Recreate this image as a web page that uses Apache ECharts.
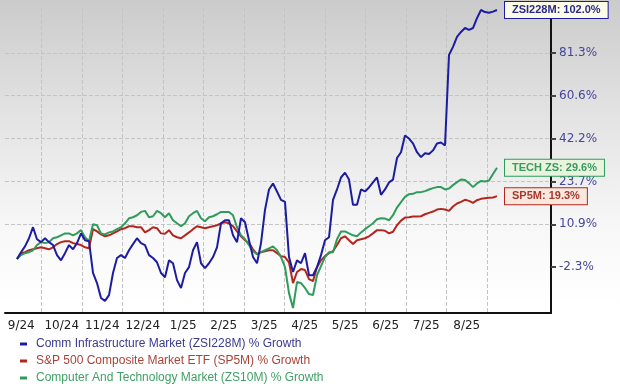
<!DOCTYPE html>
<html><head><meta charset="utf-8">
<script src="https://cdn.jsdelivr.net/npm/echarts@6/dist/echarts.min.js"></script>
<style>html,body{margin:0;padding:0;background:#fff;}#c{width:620px;height:386px;}</style>
</head><body><div id="c"></div>
<script>
const monthLabels = ['9/24','10/24','11/24','12/24','1/25','2/25','3/25','4/25','5/25','6/25','7/25','8/25'];
const yTickValues = [-2.3, 10.9, 23.7, 42.2, 60.6, 81.3];
const yTickLabels = ['-2.3%','10.9%','23.7%','42.2%','60.6%','81.3%'];
const seriesNames = [
  'Comm Infrastructure Market (ZSI228M) % Growth',
  'S&P 500 Composite Market ETF (SP5M) % Growth',
  'Computer And Technology Market (ZS10M) % Growth'
];
const seriesCodes = ['ZSI228M', 'SP5M', 'TECH ZS'];

const commInfra = [
  0.2,2.3,4.1,6.6,10.0,6.3,5.4,6.6,5.4,4.5,
  1.4,-0.2,2.0,4.5,3.2,5.1,8.1,6.0,5.7,-4.1,
  -7.2,-11.8,-12.7,-10.9,-4.1,0.5,1.4,0.5,2.9,4.8,
  6.6,5.1,4.5,1.4,0.5,-0.8,-4.1,-5.4,-0.2,-1.1,
  -6.3,-8.7,-4.1,-2.3,2.9,5.4,-1.1,-2.6,-1.1,0.8,
  3.8,11.2,12.1,12.1,7.5,5.4,12.7,11.5,6.0,0.8,
  -1.1,5.1,15.2,21.3,23.1,20.7,18.2,17.6,0.8,-3.8,
  -0.2,-1.1,2.0,-4.8,-4.8,-2.3,1.4,6.0,6.9,18.2,
  21.3,25.4,27.5,24.5,16.7,16.7,21.3,20.7,21.9,23.4,
  25.4,19.7,21.3,23.4,24.5,33.8,36.3,43.5,42.2,40.1,
  36.3,34.2,35.9,35.5,37.1,40.1,40.5,39.2,80.3,84.2,
  89.0,91.4,93.3,92.4,93.3,98.1,102.0,101.0,100.7,101.2,
  102.0
];
const sp500 = [
  0.2,2.0,2.3,2.9,3.2,3.5,3.8,3.5,3.2,3.8,
  4.8,5.4,5.7,5.7,5.1,4.8,4.5,3.8,3.5,9.4,
  8.7,7.8,7.2,7.5,8.1,8.7,9.4,9.7,10.3,10.3,
  10.0,10.0,8.4,9.1,10.0,9.7,8.1,8.0,9.1,7.5,
  6.9,6.6,7.5,8.4,9.4,10.3,10.0,9.7,10.0,10.3,
  10.6,11.2,11.5,11.2,10.3,8.7,7.2,6.0,5.1,3.2,
  1.7,2.3,2.6,2.9,2.9,2.0,1.1,0.8,-0.8,-7.2,
  -3.8,-2.9,-3.2,-6.0,-6.6,-2.3,-0.2,1.1,2.0,2.6,
  4.5,6.6,7.2,6.0,4.8,6.0,6.3,6.6,7.2,8.1,
  9.1,9.1,8.9,8.1,8.6,10.6,12.0,12.9,13.0,13.2,
  13.2,13.3,13.9,14.3,14.7,15.3,15.5,15.3,14.9,16.2,
  17.1,17.6,18.2,17.9,17.3,18.1,18.5,18.7,18.8,18.9,
  19.3
];
const techMarket = [
  0.2,1.4,2.0,2.3,2.9,4.5,5.4,5.1,5.4,6.6,
  6.9,7.5,8.1,8.1,7.5,8.1,9.1,6.9,5.7,10.9,
  10.6,8.1,7.8,8.4,8.7,9.4,10.0,11.2,12.7,13.0,
  13.6,14.6,14.9,13.0,13.3,14.9,14.2,13.0,14.2,12.1,
  11.2,10.3,11.2,13.3,14.2,14.9,12.7,11.8,13.0,13.3,
  13.9,14.6,14.6,14.6,13.6,10.0,7.5,6.3,4.5,2.6,
  1.7,2.3,2.9,3.5,4.1,2.9,0.8,-2.3,-10.3,-14.9,
  -6.9,-7.2,-8.7,-10.6,-10.9,-4.8,-2.0,0.8,2.3,2.3,
  6.3,8.7,8.7,8.1,7.5,7.2,8.4,9.4,10.3,11.2,
  12.4,12.7,12.6,12.1,13.6,15.9,17.5,19.1,19.9,20.0,
  20.5,20.5,20.8,21.3,21.7,22.0,22.0,21.3,21.6,22.6,
  23.5,24.5,24.3,23.2,22.0,23.1,23.9,23.7,24.1,26.9,
  29.6
];

// trading-date categories for the sample points (about every 3 days)
const startDay = Date.UTC(2024, 8, 10);
const dates = commInfra.map((_, i) => {
  const d = new Date(startDay + i * 3 * 86400000);
  return (d.getUTCMonth() + 1) + '/' + d.getUTCDate() + '/' + d.getUTCFullYear();
});

// the chart's vertical scale is piecewise between the labelled ticks
function toUnit(p) {
  const t = yTickValues, n = t.length;
  let i = 0;
  if (p >= t[n - 1]) i = n - 2;
  else if (p > t[0]) { while (p > t[i + 1]) i++; }
  return i + (p - t[i]) / (t[i + 1] - t[i]);
}

const colors = ['#1c1ca0', '#b3261e', '#2f9c5c'];
const textColors = ['#2a2a8a', '#a8382e', '#3a9a60'];
const legendColors = ['#3a3a90', '#a8433a', '#41a064'];
const boxBg = ['#fbfbe8', '#fae8de', '#e9f4df'];
const allData = [commInfra, sp500, techMarket];
const order = [1, 2, 0];
const zOf = [5, 3, 4];

const series = order.map(k => ({
  name: seriesNames[k],
  type: 'line',
  xAxisIndex: 0, yAxisIndex: 0,
  data: allData[k].map(toUnit),
  showSymbol: false,
  symbol: 'none',
  lineStyle: { color: colors[k], width: 2 },
  itemStyle: { color: colors[k] },
  z: zOf[k],
  endLabel: {
    show: true,
    formatter: seriesCodes[k] + ': ' + allData[k][allData[k].length - 1].toFixed(1) + '%',
    distance: 8,
    color: textColors[k],
    fontFamily: 'Liberation Sans',
    fontWeight: 'bold',
    fontSize: 11,
    backgroundColor: boxBg[k],
    borderColor: colors[k],
    borderWidth: 1,
    padding: [3, 7, 2, 7]
  }
}));

const legendTops = [333, 350, 367];
const legends = seriesNames.map((n, k) => ({
  orient: 'horizontal', left: 15, top: legendTops[k],
  icon: 'rect', itemWidth: 7, itemHeight: 3,
  textStyle: { fontFamily: 'Liberation Sans', fontSize: 12, color: legendColors[k], padding: [0, 0, 0, 4] },
  data: [{ name: n, itemStyle: { color: colors[k] } }]
}));

const gridColor = '#c4c4c4';
const tr = 'rgba(0,0,0,0)';
const chart = echarts.init(document.getElementById('c'), null, { renderer: 'canvas' });
chart.setOption({
  animation: false,
  backgroundColor: {
    type: 'linear', x: 0, y: 0, x2: 0, y2: 1,
    colorStops: [
      { offset: 0, color: '#cbcbcb' },
      { offset: 0.3, color: '#e3e3e3' },
      { offset: 0.6, color: '#f8f8f8' },
      { offset: 0.8, color: '#ffffff' }
    ]
  },
  grid: [
    { left: 17, right: 123, top: 10, bottom: 76 },
    { left: 5, right: 69, top: 10, bottom: 76 },
    { left: 5, right: 69, top: 8, bottom: 73 },
    { left: 1, right: 133, top: 8, bottom: 73 }
  ],
  xAxis: [
    { gridIndex: 0, type: 'category', data: dates, boundaryGap: false, show: false },
    { gridIndex: 1, type: 'value', min: 0, max: 1, show: false },
    { gridIndex: 2, type: 'value', min: 0, max: 1, position: 'bottom',
      axisLine: { show: true, onZero: false, lineStyle: { color: '#111', width: 2 } },
      axisTick: { show: false }, axisLabel: { show: false }, splitLine: { show: false } },
    { gridIndex: 3, type: 'category', data: monthLabels, boundaryGap: true,
      axisLine: { show: false }, axisTick: { show: false },
      axisLabel: { color: '#222', fontFamily: 'DejaVu Sans', fontSize: 12, margin: 7, interval: 0 },
      splitLine: { show: true, interval: 0, lineStyle: { type: 'dashed', width: 1,
        color: [tr, gridColor, gridColor, gridColor, gridColor, gridColor, gridColor, gridColor, gridColor, gridColor, gridColor, gridColor, gridColor] } } }
  ],
  yAxis: [
    { gridIndex: 0, type: 'value', min: -1, max: 6, show: false },
    { gridIndex: 1, type: 'value', min: -1, max: 6, interval: 1, position: 'right',
      axisLine: { show: false, onZero: false },
      axisTick: { show: true, length: 5, customValues: [0, 1, 2, 3, 4, 5], lineStyle: { color: '#444', width: 2 } },
      axisLabel: { customValues: [0, 1, 2, 3, 4, 5], color: '#45459a', fontFamily: 'DejaVu Sans', fontSize: 12, margin: 8,
        formatter: v => (Number.isInteger(v) && v >= 0 && v < yTickLabels.length) ? yTickLabels[v] : '' },
      splitLine: { show: true, lineStyle: { type: 'dashed', width: 1,
        color: [tr, gridColor, gridColor, gridColor, gridColor, gridColor, gridColor, tr] } } },
    { gridIndex: 2, type: 'value', min: 0, max: 1, position: 'right',
      axisLine: { show: true, onZero: false, lineStyle: { color: '#111', width: 2 } },
      axisTick: { show: false }, axisLabel: { show: false }, splitLine: { show: false } },
    { gridIndex: 3, type: 'value', min: 0, max: 1, show: false }
  ],
  legend: legends,
  series: series
});
</script></body></html>
